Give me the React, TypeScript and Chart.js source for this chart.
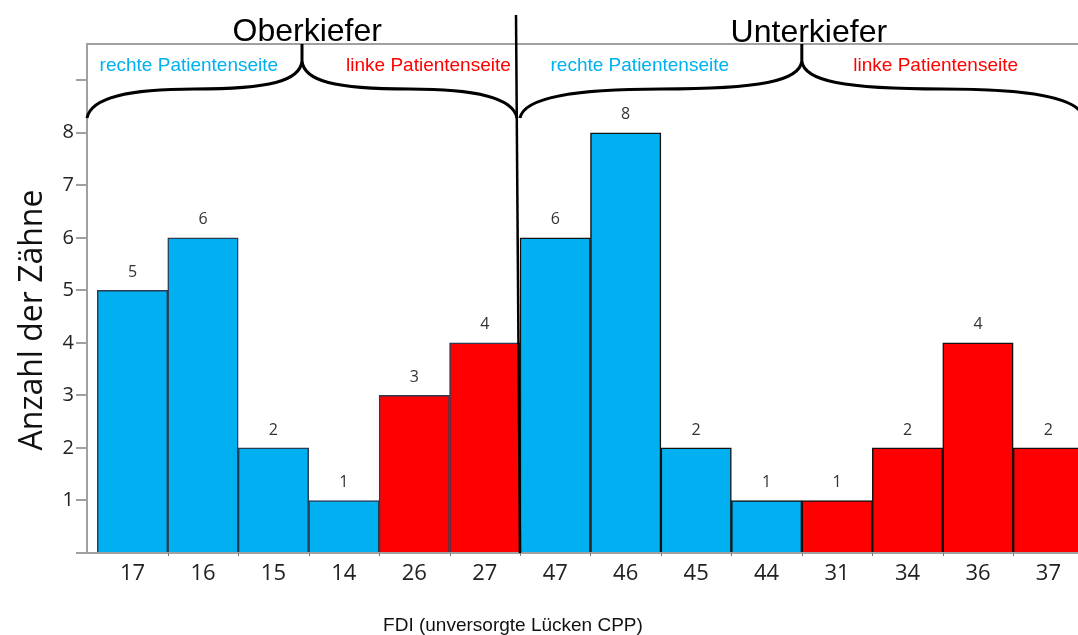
import React, { useEffect, useRef } from "react";
import { Chart, registerables } from "chart.js";

Chart.register(...registerables);

// ---- data ----
const categories = ["17", "16", "15", "14", "26", "27", "47", "46", "45", "44", "31", "34", "36", "37"];
const toothCounts = [5, 6, 2, 1, 3, 4, 6, 8, 2, 1, 1, 2, 4, 2];
const patientSide = ["r", "r", "r", "r", "l", "l", "r", "r", "r", "r", "l", "l", "l", "l"];
const jawTitles = ["Oberkiefer", "Unterkiefer"];
const sideLabels = ["rechte Patientenseite", "linke Patientenseite", "rechte Patientenseite", "linke Patientenseite"];
const yTickValues = [0, 1, 2, 3, 4, 5, 6, 7, 8, 9];
const yTitle = "Anzahl der Zähne";
const xTitle = "FDI (unversorgte Lücken CPP)";

const BLUE = "#00B0F0";
const RED = "#FF0000";

export default function App() {
  const ref = useRef<HTMLCanvasElement | null>(null);

  useEffect(() => {
    const canvas = ref.current;
    if (!canvas) return;

    const annotations = {
      id: "annotations",
      afterDatasetsDraw(chart: any) {
        const ctx = chart.ctx;
        const meta = chart.getDatasetMeta(0);
        ctx.save();
        ctx.fillStyle = "#333";
        ctx.font = "16px 'Open Sans'";
        ctx.textAlign = "center";
        ctx.textBaseline = "middle";
        meta.data.forEach((bar: any, i: number) => {
          ctx.fillText(String(toothCounts[i]), bar.x, bar.y - 18);
        });
        ctx.restore();
      },
      afterDraw(chart: any) {
        const ctx = chart.ctx;
        const xs = chart.scales.x;
        const ca = chart.chartArea;
        const px = (v: number) => xs.getPixelForValue(v);
        ctx.save();

        // top frame line
        ctx.strokeStyle = "#a0a0a0";
        ctx.lineWidth = 2;
        ctx.beginPath();
        ctx.moveTo(ca.left, ca.top);
        ctx.lineTo(ca.right, ca.top);
        ctx.stroke();

        // small x tick marks at category boundaries
        ctx.strokeStyle = "#777";
        ctx.lineWidth = 1;
        for (let i = 0; i < categories.length - 1; i++) {
          const x = Math.round(px(i + 0.5)) + 0.5;
          ctx.beginPath();
          ctx.moveTo(x, ca.bottom);
          ctx.lineTo(x, ca.bottom + 3);
          ctx.stroke();
        }

        // divider
        const div = px(5.5);
        ctx.strokeStyle = "#000";
        ctx.lineWidth = 2.5;
        ctx.beginPath();
        ctx.moveTo(div - 4, 15);
        ctx.lineTo(div, ca.bottom);
        ctx.stroke();

        // braces
        const brace = (x0: number, x1: number) => {
          const xm = (x0 + x1) / 2;
          const h = (x1 - x0) / 2;
          const yEnd = ca.top + 74;
          const yFlat = ca.top + 45;
          const yCusp = ca.top + 17;
          ctx.beginPath();
          ctx.moveTo(x0, yEnd);
          ctx.bezierCurveTo(x0 + 4, yFlat + 8, x0 + h * 0.2, yFlat, x0 + h * 0.5, yFlat);
          ctx.bezierCurveTo(x0 + h * 0.85, yFlat, xm - 2, yFlat - 8, xm, yCusp);
          ctx.bezierCurveTo(xm + 2, yFlat - 8, x1 - h * 0.85, yFlat, x1 - h * 0.5, yFlat);
          ctx.bezierCurveTo(x1 - h * 0.2, yFlat, x1 - 4, yFlat + 8, x1, yEnd);
          ctx.moveTo(xm, yCusp);
          ctx.lineTo(xm, ca.top);
          ctx.stroke();
        };
        ctx.strokeStyle = "#000";
        ctx.lineWidth = 3;
        brace(ca.left, div - 3);
        brace(div, 2 * px(9.5) - div);

        // jaw titles
        ctx.fillStyle = "#000";
        ctx.font = "32px 'Liberation Sans'";
        ctx.textAlign = "center";
        ctx.textBaseline = "alphabetic";
        ctx.fillText(jawTitles[0], px(2.48), 41);
        ctx.fillText(jawTitles[1], px(9.6), 42);

        // side labels
        ctx.font = "19px 'Liberation Sans'";
        const sidePos = [0.8, 4.2, 7.2, 11.4];
        sideLabels.forEach((t, i) => {
          ctx.fillStyle = i % 2 === 0 ? BLUE : RED;
          ctx.fillText(t, px(sidePos[i]), 71);
        });

        // axis titles
        ctx.fillStyle = "#111";
        ctx.font = "19px 'Liberation Sans'";
        ctx.fillText(xTitle, px(5.4), 631);

        ctx.translate(42, 320);
        ctx.rotate(-Math.PI / 2);
        ctx.font = "32px 'Open Sans'";
        ctx.fillStyle = "#111";
        ctx.fillText(yTitle, 0, 0);
        ctx.restore();
      },
    };

    const chart = new Chart(canvas, {
      type: "bar",
      data: {
        datasets: [
          {
            data: toothCounts.map((v, i) => ({ x: i, y: v })),
            backgroundColor: patientSide.map((s) => (s === "r" ? BLUE : RED)),
            borderColor: toothCounts.map((_, i) => (i < 6 ? "#2a3b52" : "#111")),
            borderWidth: 1.5,
            barPercentage: 1,
            categoryPercentage: 1,
          },
        ],
      },
      options: {
        animation: false,
        responsive: true,
        maintainAspectRatio: false,
        layout: { padding: { top: 44, left: 0, right: 0, bottom: 0 } },
        plugins: {
          legend: { display: false },
          tooltip: { enabled: false },
        },
        scales: {
          x: {
            type: "linear",
            min: -0.646,
            max: 13.42,
            offset: false,
            afterBuildTicks: (scale: any) => {
              scale.ticks = categories.map((_, i) => ({ value: i }));
            },
            afterFit: (scale: any) => {
              scale.height = 82;
            },
            grid: { display: false, drawTicks: false, offset: false },
            border: { display: true, color: "#a0a0a0", width: 2 },
            ticks: {
              autoSkip: false,
              maxRotation: 0,
              padding: 8,
              color: "#222",
              font: { family: "'Open Sans'", size: 22 },
              callback: (v: any) => categories[v] ?? "",
            },
          },
          y: {
            min: 0,
            max: 9.69,
            afterBuildTicks: (scale: any) => {
              scale.ticks = yTickValues.map((v) => ({ value: v }));
            },
            afterFit: (scale: any) => {
              scale.width = 87;
            },
            grid: {
              drawOnChartArea: false,
              drawTicks: true,
              tickLength: 11,
              color: "#a0a0a0",
              lineWidth: 2,
            },
            border: { display: true, color: "#a0a0a0", width: 2 },
            ticks: {
              padding: 2,
              color: "#222",
              font: { family: "'Open Sans'", size: 20 },
              callback: (v: any) => (v >= 1 && v <= 8 ? String(v) : ""),
            },
          },
        },
      },
      plugins: [annotations],
    });

    return () => chart.destroy();
  }, []);

  return (
    <div style={{ position: "fixed", left: 0, top: 0, width: 1078, height: 635, background: "#fff" }}>
      <canvas ref={ref} />
    </div>
  );
}
